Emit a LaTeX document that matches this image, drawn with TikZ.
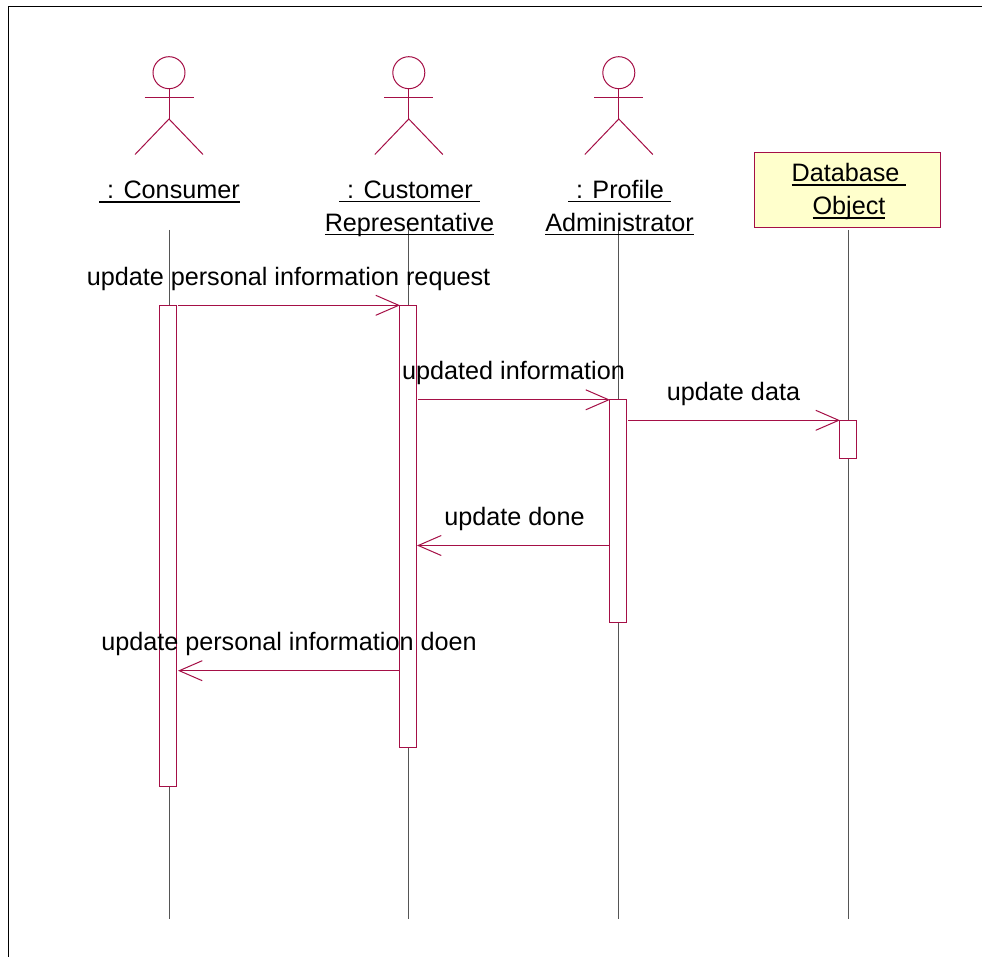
\documentclass[tikz,border=0pt]{standalone}
\usepackage{fontspec}
\setmainfont{Liberation Sans}
\usetikzlibrary{arrows.meta}
\definecolor{umlred}{HTML}{A50F46}
\definecolor{lifegrey}{HTML}{555555}
\definecolor{objfill}{HTML}{FFFFCC}
\newcommand{\ulx}[1]{\leavevmode\setbox0\hbox{#1}\rlap{\vrule width\wd0 height -2.6pt depth 3.8pt}\box0}
\tikzset{
  x=1pt,y=-1pt,
  lifeline/.style={draw=lifegrey,line width=1pt},
  umlline/.style={draw=umlred,line width=1pt},
  actbar/.style={umlline,fill=white,rectangle,minimum width=17pt,inner sep=0pt,anchor=north},
  objbox/.style={umlline,fill=objfill,rectangle,minimum width=186pt,minimum height=75pt,inner sep=0pt},
  msg/.style={umlline,shorten >=-1pt,-{Straight Barb[length=23pt,width=20pt,line width=1pt]}},
  txt/.style={font=\fontsize{25.2}{33}\selectfont,inner sep=0pt,text=black,anchor=base},
  mltxt/.style={font=\fontsize{25.2}{33}\selectfont,inner sep=0pt,text=black,align=center,anchor=center},
}
\newcommand{\actor}[2]{%
  \node[umlline,circle,minimum size=32pt,inner sep=0pt] (#2head) at (#1,72.7) {};
  \coordinate (#2hip) at (#1,119);
  \coordinate (#2la) at (#1-24.5,97.5);
  \coordinate (#2ra) at (#1+24.5,97.5);
  \coordinate (#2ll) at (#1-34,154.5);
  \coordinate (#2rl) at (#1+34,154.5);
  \draw[umlline] (#2head.south) -- (#2hip);
  \draw[umlline] (#2la) -- (#2ra);
  \draw[umlline] (#2ll) -- (#2hip) -- (#2rl);
}
\begin{document}
\begin{tikzpicture}
\useasboundingbox (0,0) rectangle (982,957);
\fill[white] (0,0) rectangle (982,957);
\coordinate (frameBL) at (8.5,957);
\coordinate (frameTL) at (8.5,6.5);
\coordinate (frameTR) at (982,6.5);
\draw[black,line width=1pt] (frameBL) -- (frameTL) -- (frameTR);

\actor{169}{c}
\actor{408.8}{r}
\actor{618.8}{p}
\node[objbox] (db) at (847.7,190) {};

\coordinate (l1t) at (169,230);   \coordinate (l1b) at (169,918.5);
\coordinate (l2t) at (408.7,230); \coordinate (l2b) at (408.7,918.5);
\coordinate (l3t) at (618.7,230); \coordinate (l3b) at (618.7,918.5);
\coordinate (l4t) at (848.7,230); \coordinate (l4b) at (848.7,918.5);
\draw[lifeline] (l1t) -- (l1b);
\draw[lifeline] (l2t) -- (l2b);
\draw[lifeline] (l3t) -- (l3b);
\draw[lifeline] (l4t) -- (l4b);

\node[actbar,minimum height=480.5pt] (a1) at (168,305.3) {};
\node[actbar,minimum height=441.5pt] (a2) at (408,305.3) {};
\node[actbar,minimum height=222.5pt] (a3) at (618,399.3) {};
\node[actbar,minimum height=37.5pt]  (a4) at (848,420.3) {};

\coordinate (m1s) at (178,305.3);
\coordinate (m2s) at (418,399.8);
\coordinate (m2e) at (a3.west |- m2s);
\coordinate (m3s) at (628,420.3);
\coordinate (m4s) at (a3.west |- 0,545.5);
\coordinate (m4e) at (418,545.5);
\coordinate (m5s) at (a2.west |- 0,670.7);
\coordinate (m5e) at (179,670.7);
\draw[msg] (m1s) -- (a2.north west);
\draw[msg] (m2s) -- (m2e);
\draw[msg] (m3s) -- (a4.north west);
\draw[msg] (m4s) -- (m4e);
\draw[msg] (m5s) -- (m5e);

\node[txt] (tc) at (169.5,198.8) {\ulx{\hspace{8pt}: Consumer}};
\node[mltxt] (tr) at (409.5,208.9) {\ulx{\hspace{8pt}: Customer\hspace{7pt}}\\\ulx{Representative}};
\node[mltxt] (tp) at (619.5,207.4) {\ulx{\hspace{8pt}: Profile\hspace{7pt}}\\\ulx{Administrator}};
\node[mltxt] (td) at (849,191.7) {\ulx{Database\hspace{7pt}}\\\ulx{Object}};

\node[txt] (t1) at (288.5,285.7) {update personal information request};
\node[txt] (t2) at (513.5,379.2) {updated information};
\node[txt] (t3) at (733.5,400.2) {update data};
\node[txt] (t4) at (514.5,525.2) {update done};
\node[txt] (t5) at (289,650.2) {update personal information doen};
\end{tikzpicture}
\end{document}
